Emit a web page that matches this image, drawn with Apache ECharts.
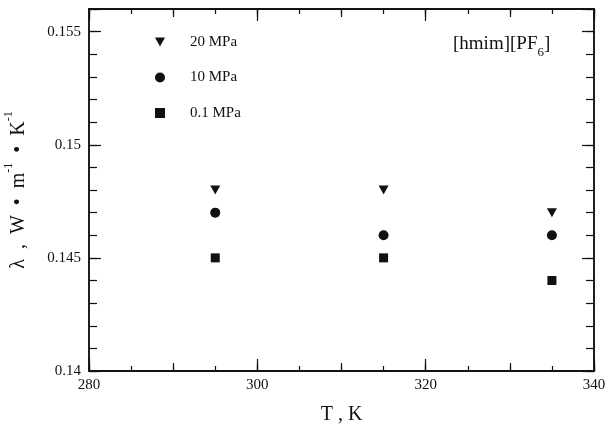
<!DOCTYPE html>
<html>
<head>
<meta charset="utf-8">
<script src="https://cdn.jsdelivr.net/npm/echarts@6/dist/echarts.min.js"></script>
<style>
  html, body { margin: 0; padding: 0; background: #fff; }
  #chart { width: 612px; height: 426px; }
</style>
</head>
<body>
<div id="chart"></div>
<script>
// data
var temps = [295, 315, 335];
var p20 = [0.148, 0.148, 0.147];
var p10 = [0.147, 0.146, 0.146];
var p01 = [0.145, 0.145, 0.144];
var seriesNames = ['20 MPa', '10 MPa', '0.1 MPa'];
var yTickLabels = [0.14, 0.145, 0.15, 0.155];

var FONT = 'Liberation Serif';
var INK = '#111';
var triPath = 'path://M0,0L10,0L5,9Z';

function pairs(xs, ys) {
  return xs.map(function (x, i) { return [x, ys[i]]; });
}

// x axes: one with labels + long ticks, others only for shorter ticks
function xAx(pos, interval, tickLen, labels) {
  return {
    type: 'value', position: pos, min: 280, max: 340, interval: interval,
    axisLine: { show: true, onZero: false, lineStyle: { color: INK, width: 1.5 } },
    axisTick: { show: true, inside: true, length: tickLen, lineStyle: { color: INK, width: 1.2 } },
    axisLabel: { show: labels, color: INK, fontFamily: FONT, fontSize: 15, margin: 7 },
    splitLine: { show: false },
    name: labels && pos == 'bottom' ? 'T , K' : '',
    nameLocation: 'middle', nameGap: 34,
    nameTextStyle: { color: INK, fontFamily: FONT, fontSize: 20 }
  };
}

function yAx(pos, interval, tickLen, labels) {
  var ax = {
    type: 'value', position: pos, min: 0.14, max: 0.156, interval: interval,
    axisLine: { show: true, onZero: false, lineStyle: { color: INK, width: 1.5 } },
    axisTick: { show: true, inside: true, length: tickLen, lineStyle: { color: INK, width: 1.2 } },
    axisLabel: {
      show: labels, color: INK, fontFamily: FONT, fontSize: 15, margin: 8,
      formatter: function (v) {
        for (var i = 0; i < yTickLabels.length; i++) {
          if (Math.abs(v - yTickLabels[i]) < 1e-9) return String(yTickLabels[i]);
        }
        return '';
      }
    },
    splitLine: { show: false }
  };
  if (labels && pos == 'left') {
    ax.name = '{m|λ  ,  W  •  m}{s|-1}{m|  •  K}{s|-1}';
    ax.nameLocation = 'middle';
    ax.nameGap = 60;
    ax.nameTextStyle = {
      color: INK, fontFamily: FONT, fontSize: 20,
      rich: {
        m: { fontFamily: FONT, fontSize: 20, color: INK, lineHeight: 26, verticalAlign: 'bottom' },
        s: { fontFamily: FONT, fontSize: 12, color: INK, lineHeight: 26, verticalAlign: 'top' }
      }
    };
  }
  return ax;
}

var chart = echarts.init(document.getElementById('chart'), null, { renderer: 'canvas' });

var option = {
  backgroundColor: '#fff',
  animation: false,
  grid: { left: 89, right: 18, top: 9, bottom: 55, outerBoundsMode: 'none', containLabel: false },
  xAxis: [
    xAx('bottom', 20, 12, true),
    xAx('bottom', 10, 8, false),
    xAx('bottom', 5, 5, false),
    xAx('top', 20, 12, false),
    xAx('top', 10, 8, false),
    xAx('top', 5, 5, false)
  ],
  yAxis: [
    yAx('left', 0.005, 12, true),
    yAx('left', 0.001, 8, false),
    yAx('right', 0.005, 12, false),
    yAx('right', 0.001, 8, false)
  ],
  legend: {
    orient: 'vertical', left: 150, top: 29, itemGap: 19.5,
    itemWidth: 10, itemHeight: 10,
    textStyle: { color: INK, fontFamily: FONT, fontSize: 15, lineHeight: 16, padding: [0, 0, 0, 20] },
    data: [
      { name: seriesNames[0], icon: triPath },
      { name: seriesNames[1], icon: 'circle' },
      { name: seriesNames[2], icon: 'rect' }
    ]
  },
  graphic: [{
    type: 'text', left: 453, top: 35,
    style: {
      text: '{a|[hmim][PF}{b|6}{a|]}',
      rich: {
        a: { fontFamily: FONT, fontSize: 19, fill: INK, lineHeight: 24, verticalAlign: 'top' },
        b: { fontFamily: FONT, fontSize: 13, fill: INK, lineHeight: 22, verticalAlign: 'bottom' }
      }
    }
  }],
  series: [
    { name: seriesNames[0], type: 'scatter', data: pairs(temps, p20), symbol: triPath, symbolSize: [10, 9], itemStyle: { color: INK, opacity: 1 } },
    { name: seriesNames[1], type: 'scatter', data: pairs(temps, p10), symbol: 'circle', symbolSize: 10, itemStyle: { color: INK, opacity: 1 } },
    { name: seriesNames[2], type: 'scatter', data: pairs(temps, p01), symbol: 'rect', symbolSize: 9, itemStyle: { color: INK, opacity: 1 } }
  ]
};

chart.setOption(option);
</script>
</body>
</html>
